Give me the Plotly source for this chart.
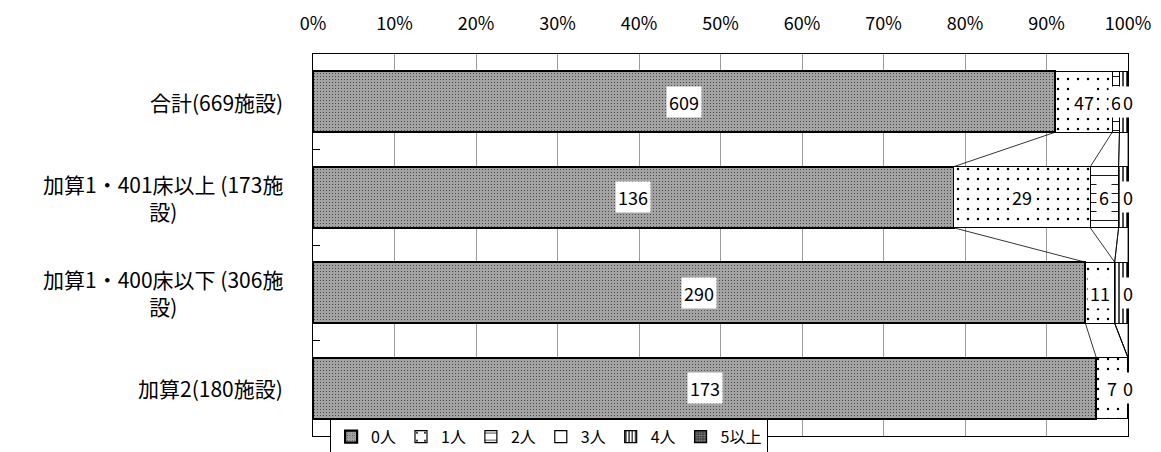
import plotly.graph_objects as go

categories = ["合計(669施設)", "加算1・401床以上 (173施<br>設)", "加算1・400床以下 (306施<br>設)", "加算2(180施設)"]
series_names = ["0人", "1人", "2人", "3人", "4人", "5以上"]
v_0 = [609, 136, 290, 173]
v_1 = [47, 29, 11, 7]
v_2 = [6, 6, 0, 0]
v_3 = [0, 0, 0, 0]
v_4 = [7, 2, 5, 0]
v_5 = [0, 0, 0, 0]
values = [v_0, v_1, v_2, v_3, v_4, v_5]
x_ticks = [0, 10, 20, 30, 40, 50, 60, 70, 80, 90, 100]
x_ticktext = ["0%", "10%", "20%", "30%", "40%", "50%", "60%", "70%", "80%", "90%", "100%"]

styles = [
    dict(bg="#a4a4a4", fg="#3c3c3c", shape=".", size=3, sol=0.12, lw=2.2),
    dict(bg="#ffffff", fg="#000000", shape=".", size=10, sol=0.05, lw=1.2),
    dict(bg="#ffffff", fg="#000000", shape="-", size=9, sol=0.1, lw=1.2),
    dict(bg="#ffffff", fg="#000000", shape="", size=8, sol=0.1, lw=1.2),
    dict(bg="#ffffff", fg="#000000", shape="|", size=4, sol=0.35, lw=1.2),
    dict(bg="#3c3c3c", fg="#9a9a9a", shape="+", size=3, sol=0.3, lw=1.2),
]
# which series carry data labels
label_rule = {0: "always", 1: "always", 2: "nonzero", 5: "always"}

ypos = list(range(len(categories)))
W = 0.64
FONT = "Noto Sans CJK JP, Liberation Sans, sans-serif"

fig = go.Figure()
for i, (name, vals) in enumerate(zip(series_names, values)):
    st = styles[i]
    fig.add_trace(go.Bar(
        y=ypos, x=vals, name=name, orientation="h", width=W,
        marker=dict(color=st["bg"], line=dict(color="black", width=st["lw"]),
                    pattern=dict(shape=st["shape"], fgcolor=st["fg"], bgcolor=st["bg"],
                                 size=st["size"], solidity=st["sol"], fillmode="replace")),
        hoverinfo="x+name",
    ))

# cumulative percentages
totals = [sum(values[s][r] for s in range(len(values))) for r in range(len(categories))]
cum = []
for r in range(len(categories)):
    c = [0.0]
    for s in range(len(values)):
        c.append(c[-1] + values[s][r] / totals[r] * 100)
    cum.append(c)

# series lines
lx, ly = [], []
for r in range(len(categories) - 1):
    for s in range(1, len(values)):
        lx += [cum[r][s], cum[r + 1][s], None]
        ly += [r + W / 2, r + 1 - W / 2, None]
fig.add_trace(go.Scatter(x=lx, y=ly, mode="lines", line=dict(color="black", width=0.8),
                         showlegend=False, hoverinfo="skip"))

annotations = []
for r in range(len(categories)):
    for s, rule in label_rule.items():
        v = values[s][r]
        if rule == "nonzero" and v == 0:
            continue
        xm = (cum[r][s] + cum[r][s + 1]) / 2
        annotations.append(dict(x=xm, y=r, xref="x", yref="y", text=str(v), showarrow=False,
                                font=dict(size=18, color="black", family=FONT),
                                bgcolor="white", borderpad=2))
    annotations.append(dict(x=-0.034, y=r, xref="paper", yref="y", text=categories[r],
                            showarrow=False, xanchor="right", align="center",
                            font=dict(size=21, color="black", family=FONT)))

# page body has an 8px margin: figure is sized to fit inside the window
fig.update_layout(
    width=1153, height=444,
    margin=dict(l=305, r=33, t=46, b=16, autoexpand=False),
    barmode="stack", barnorm="percent",
    plot_bgcolor="white", paper_bgcolor="white",
    font=dict(family=FONT, color="black"),
    annotations=annotations,
    xaxis=dict(side="top", range=[0, 100], tickvals=x_ticks, ticktext=x_ticktext,
               showgrid=True, gridcolor="#9a9a9a", gridwidth=1,
               showline=True, linecolor="black", linewidth=1, mirror=True,
               ticks="", ticklabelstandoff=16, tickfont=dict(size=18, family=FONT),
               zeroline=False, automargin=False),
    yaxis=dict(range=[3.5, -0.5], showticklabels=False, tickvals=ypos, ticks="",
               showgrid=False, zeroline=False, automargin=False,
               showline=True, linecolor="black", linewidth=1, mirror=True,
               minor=dict(tickvals=[0.5, 1.5, 2.5], ticks="inside", ticklen=7,
                          tickcolor="black", showgrid=False)),
    legend=dict(orientation="h", x=0.021, y=0.045, xanchor="left", yanchor="top",
                bgcolor="white", bordercolor="black", borderwidth=1,
                font=dict(size=16, family=FONT), itemwidth=30, traceorder="normal"),
    showlegend=True,
)

fig.write_html("out.html")
